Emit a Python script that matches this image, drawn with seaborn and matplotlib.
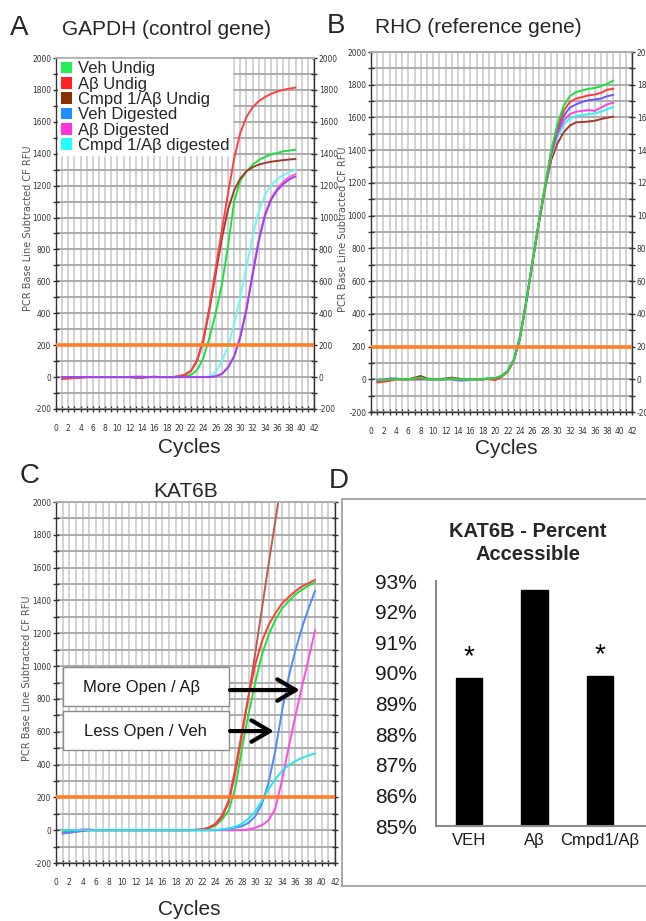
import numpy as np
import pandas as pd
import matplotlib
matplotlib.use('Agg')
import matplotlib.pyplot as plt
import seaborn as sns
from matplotlib.patches import Patch, Rectangle
from matplotlib import font_manager as fm

# ------------------------------------------------------------------ data
cycles = [1, 2, 3, 4, 5, 6, 7, 8, 9, 10, 11, 12, 13, 14, 15, 16, 17, 18, 19, 20,
          21, 22, 23, 24, 25, 26, 27, 28, 29, 30, 31, 32, 33, 34, 35, 36, 37, 38, 39]
series = ['Veh Undig', 'Aβ Undig', 'Cmpd 1/Aβ Undig',
          'Veh Digested', 'Aβ Digested', 'Cmpd 1/Aβ digested']
threshold = 200

# A: GAPDH (control gene)
gapdh_veh_undig = [0, 0, 0, 0, 0, 0, 0, 0, 0, 0, 0, 0, 0, 0, 0, 0, 0, 0, 0, 2,
                   5, 15, 45, 120, 250, 400, 580, 820, 1100, 1230,
                   1290, 1330, 1360, 1380, 1395, 1405, 1415, 1420, 1425]
gapdh_ab_undig = [-10, -8, -6, -3, 0, 0, 0, 0, 0, 0, 0, 0, 0, 0, 0, 0, 0, 0, 0, 5,
                  15, 40, 110, 240, 440, 680, 920, 1150, 1370, 1530,
                  1630, 1690, 1730, 1755, 1775, 1790, 1800, 1808, 1815]
gapdh_cmpd_undig = [-10, -8, -6, -3, 0, 0, 0, 0, 0, 0, 0, 0, -5, -5, 0, 0, 0, 0, 0, 5,
                    15, 40, 105, 230, 430, 650, 870, 1050, 1170, 1245,
                    1290, 1315, 1332, 1342, 1350, 1355, 1360, 1364, 1367]
gapdh_veh_dig = [0, 0, 0, 0, 0, 0, 0, 0, 0, 0, 0, 0, 3, 3, 0, 3, 0, 0, 0, 0,
                 0, 0, 0, 0, 0, 5, 20, 60, 130, 250,
                 420, 640, 850, 1010, 1110, 1170, 1210, 1240, 1258]
gapdh_ab_dig = [0, 0, 0, 0, 0, 0, 0, 0, 0, 0, 0, 0, 0, 0, 0, 0, 0, 0, 0, 0,
                0, 0, 0, 0, 0, 5, 20, 60, 130, 255,
                430, 650, 860, 1020, 1120, 1180, 1225, 1255, 1272]
gapdh_cmpd_dig = [0, 0, 0, 0, 0, 0, 0, 0, 0, 0, 0, 0, 0, 0, 0, 0, 0, 0, 0, 0,
                  0, 0, 0, 0, 5, 30, 100, 190, 330, 500,
                  690, 880, 1040, 1140, 1200, 1240, 1265, 1285, 1300]

# B: RHO (reference gene)
rho_veh_undig = [-5, -5, 0, 0, 0, 0, 5, 10, 0, 0, 0, 0, 5, 0, 0, 0, 0, 0, 5, 8,
                 20, 50, 120, 260, 480, 720, 960, 1180, 1400, 1560,
                 1670, 1730, 1755, 1765, 1775, 1780, 1790, 1805, 1825]
rho_ab_undig = [-20, -15, -10, 0, 0, 0, 0, 5, 0, 0, 0, 0, 5, 0, 0, 0, 0, 0, 0, -5,
                15, 45, 115, 255, 475, 715, 955, 1175, 1390, 1540,
                1640, 1695, 1715, 1725, 1735, 1740, 1750, 1770, 1775]
rho_cmpd_undig = [-10, -5, 0, 0, 0, 0, 10, 20, 5, 0, 0, 5, 10, 5, 0, 0, 0, 0, 5, 5,
                  18, 48, 118, 258, 478, 715, 950, 1160, 1340, 1440,
                  1510, 1550, 1570, 1572, 1575, 1580, 1590, 1598, 1605]
rho_veh_dig = [-10, -5, 5, 5, 0, 0, 0, 0, 0, 0, 0, 0, 0, 0, 0, 0, 0, 0, 5, 5,
               20, 50, 120, 260, 480, 720, 960, 1175, 1385, 1520,
               1610, 1660, 1680, 1695, 1705, 1710, 1715, 1730, 1738]
rho_ab_dig = [-5, 0, 0, 0, 0, 0, 0, 0, 0, 0, 0, 0, 0, -5, -5, 0, 0, 0, 5, 5,
              20, 50, 120, 260, 480, 720, 960, 1170, 1375, 1500,
              1580, 1620, 1635, 1640, 1645, 1640, 1660, 1680, 1690]
rho_cmpd_dig = [0, 0, 0, 0, 0, 0, 0, 0, 0, 0, 0, 0, 0, -10, -10, -5, 0, 5, 5, 8,
                22, 52, 125, 265, 485, 720, 955, 1165, 1365, 1480,
                1555, 1595, 1610, 1615, 1620, 1625, 1635, 1650, 1665]

# C: KAT6B
kat_veh_undig = [-10, -5, 0, 0, 0, 0, 0, 0, 0, 0, 0, 0, 0, 0, 0, 0, 0, 0, 0, 0,
                 0, 3, 10, 28, 65, 120, 260, 500, 710, 900,
                 1070, 1190, 1280, 1350, 1395, 1435, 1465, 1490, 1510]
kat_ab_undig = [-20, -15, -10, -5, 0, 0, 0, 0, 0, 0, 0, 0, 0, 0, 0, 0, 0, 0, 0, 0,
                2, 5, 15, 35, 80, 170, 350, 580, 820, 1010,
                1150, 1250, 1320, 1380, 1420, 1455, 1485, 1505, 1525]
kat_cmpd_undig = [-15, -10, -5, 0, 0, 0, 0, 0, 0, 0, 0, 0, 0, 0, 0, 0, 0, 0, 0, 0,
                  2, 5, 15, 40, 90, 180, 380, 600, 820, 1080,
                  1350, 1620, 1880, 2140]
kat_veh_dig = [-20, -15, -10, 0, 0, 0, 0, 0, 0, 0, 0, 0, 0, 0, 0, 0, 0, 0, 0, 0,
               0, 0, 0, 0, 5, 10, 15, 25, 45, 85,
               160, 290, 480, 720, 930, 1090, 1230, 1350, 1460]
kat_ab_dig = [0, 0, 0, 5, 5, 0, 0, 0, 0, 0, 0, 0, 0, 0, 0, 0, 0, 0, 0, 0,
              0, 0, 0, 0, 0, 0, 0, 0, 5, 15,
              30, 60, 130, 300, 500, 690, 870, 1040, 1220]
kat_cmpd_dig = [0, 0, 0, 0, 0, 0, 0, 0, 0, 0, 0, 0, 0, 0, 0, 0, 0, 0, 0, 0,
                0, 0, 0, 0, 5, 10, 20, 40, 70, 115,
                180, 250, 310, 360, 395, 420, 440, 455, 468]

# D: KAT6B percent accessible
groups = ['VEH', 'Aβ', 'Cmpd1/Aβ']
pct_accessible = [89.83, 92.71, 89.9]
significant = [True, False, True]
pct_ticks = [85, 86, 87, 88, 89, 90, 91, 92, 93]

# ------------------------------------------------------------------ style
sns.set_theme(style='white')
plt.rcParams['font.family'] = ['Liberation Sans', 'DejaVu Sans']

# narrow font for the qPCR tick labels
tick_fp = None
for f in fm.fontManager.ttflist:
    if f.name == 'DejaVu Sans' and 'ondensed' in str(f.stretch) and f.weight in (400, 'normal') \
            and f.style == 'normal':
        tick_fp = fm.FontProperties(fname=f.fname, size=6)
        break
if tick_fp is None:
    for f in fm.fontManager.ttflist:
        if f.name == 'Liberation Sans Narrow' and f.style == 'normal' and f.weight in (400, 'normal'):
            tick_fp = fm.FontProperties(fname=f.fname, size=6.5)
            break
if tick_fp is None:
    tick_fp = fm.FontProperties(family='Liberation Sans', size=5.5)

legend_colors = ['#22ee55', '#ff2222', '#8b3000', '#1e8fff', '#ff33dd', '#22ffff']
pal_A = dict(zip(series, ['#1ee03c', '#ff4040', '#a33a2a', '#9844f0', '#ff5ce0', '#70f6f6']))
pal_B = dict(zip(series, ['#1ee03c', '#ff3b3b', '#a33a2a', '#6a55ff', '#ff40e0', '#30f5f5']))
pal_C = dict(zip(series, ['#1ee03c', '#ff3b3b', '#c05a52', '#4f8bff', '#ff4ce6', '#1fe8ee']))

W, H = 646, 921
fig = plt.figure(figsize=(W / 100, H / 100), dpi=100)


def box(l, t, r, b):
    return [l / W, 1 - b / H, (r - l) / W, (b - t) / H]


axA = fig.add_axes(box(56, 58, 314, 409))
axB = fig.add_axes(box(371, 52, 632, 412))
axC = fig.add_axes(box(56, 502, 335, 863))
axD = fig.add_axes(box(436, 581, 646, 826))


def long_df(value_lists):
    rows = []
    for name, vals in zip(series, value_lists):
        for c, v in zip(cycles, vals):
            rows.append((name, c, v))
    return pd.DataFrame(rows, columns=['series', 'cycle', 'rfu'])


def draw_qpcr(ax, value_lists, palette, order, right_labels):
    df = long_df(value_lists)
    sns.lineplot(data=df, x='cycle', y='rfu', hue='series', hue_order=order,
                 palette=palette, ax=ax, legend=False, estimator=None,
                 sort=False, linewidth=1.4)
    ax.axhline(threshold, color='#ff7f2a', lw=2.6, zorder=3)
    ax.set_xlim(0, 42)
    ax.set_ylim(-200, 2000)
    ax.set_xticks(np.arange(0, 43, 1))
    ax.set_xticklabels([str(i) if i % 2 == 0 else '' for i in range(43)])
    yt = np.arange(-200, 2001, 100)
    ax.set_yticks(yt)
    ax.set_yticklabels([str(v) if v % 200 == 0 else '' for v in yt])
    ax.set_xlabel('')
    ax.set_ylabel('')
    ax.set_axisbelow(True)
    ax.grid(axis='x', color='#d2d2d2', lw=1.4)
    ax.grid(axis='y', color='#acacac', lw=1.4)
    for s in ['left', 'right', 'bottom']:
        ax.spines[s].set_color('#333333')
        ax.spines[s].set_linewidth(1.0)
        ax.spines[s].set_visible(True)
    ax.spines['top'].set_color('#acacac')
    ax.spines['top'].set_linewidth(1.4)
    ax.tick_params(axis='both', which='major', direction='inout', length=5,
                   width=1, color='#333333', labelcolor='#333333')
    ax.tick_params(axis='x', bottom=True, pad=8)
    ax.tick_params(axis='y', left=True, right=True, labelright=right_labels, pad=1)
    for t in ax.xaxis.get_major_ticks() + ax.yaxis.get_major_ticks():
        t.label1.set_fontproperties(tick_fp)
        t.label2.set_fontproperties(tick_fp)


orderA = ['Veh Undig', 'Cmpd 1/Aβ Undig', 'Aβ Undig', 'Cmpd 1/Aβ digested',
          'Aβ Digested', 'Veh Digested']
draw_qpcr(axA, [gapdh_veh_undig, gapdh_ab_undig, gapdh_cmpd_undig,
                gapdh_veh_dig, gapdh_ab_dig, gapdh_cmpd_dig], pal_A, orderA, True)
orderB = ['Cmpd 1/Aβ Undig', 'Cmpd 1/Aβ digested', 'Aβ Digested', 'Veh Digested',
          'Aβ Undig', 'Veh Undig']
draw_qpcr(axB, [rho_veh_undig, rho_ab_undig, rho_cmpd_undig,
                rho_veh_dig, rho_ab_dig, rho_cmpd_dig], pal_B, orderB, True)
orderC = ['Cmpd 1/Aβ Undig', 'Veh Undig', 'Aβ Undig', 'Aβ Digested',
          'Veh Digested', 'Cmpd 1/Aβ digested']
draw_qpcr(axC, [kat_veh_undig, kat_ab_undig, kat_cmpd_undig,
                kat_veh_dig, kat_ab_dig, kat_cmpd_dig], pal_C, orderC, False)

# legend of panel A
handles = [Patch(facecolor=c, edgecolor='none') for c in legend_colors]
leg = axA.legend(handles, series, loc='upper left', bbox_to_anchor=(0.008, 0.998),
                 frameon=True, fancybox=False, framealpha=1, edgecolor='white',
                 facecolor='white', fontsize=12, handlelength=0.7, handleheight=0.7,
                 handletextpad=0.35, labelspacing=0.02, borderpad=0.15, borderaxespad=0)
leg.set_zorder(10)

# annotations on panel C
for (y0, label, tx, ty) in [(757, 'More Open / Aβ', 12.8, 868),
                            (489, 'Less Open / Veh', 13.4, 603)]:
    axC.add_patch(Rectangle((1.0, y0), 25.1, 237, facecolor='white',
                            edgecolor='#8c8c8c', lw=1.0, zorder=6))
    axC.text(tx, ty, label, ha='center', va='center', fontsize=12,
             color='#1a1a1a', zorder=7)
for (x1, y) in [(36.7, 854), (32.8, 604)]:
    axC.annotate('', xy=(x1, y), xytext=(26.2, y), zorder=8,
                 arrowprops=dict(arrowstyle='->,head_length=0.6,head_width=0.35',
                                 lw=3, color='black', mutation_scale=22,
                                 shrinkA=0, shrinkB=0))

# panel D (box + bar chart)
fig.patches.append(Rectangle((342 / W, 1 - 886 / H), (660 - 342) / W, 387 / H,
                             transform=fig.transFigure, facecolor='white',
                             edgecolor='#9a9a9a', lw=1.2, zorder=5))
axD.set_zorder(6)
axD.patch.set_alpha(0)
dfD = pd.DataFrame({'group': groups, 'pct': pct_accessible})
sns.barplot(data=dfD, x='group', y='pct', color='black', width=0.4,
            saturation=1, ax=axD)
for p in axD.patches:
    p.set_facecolor('black')
    p.set_edgecolor('black')
axD.set_ylim(85, 93)
axD.set_xlim(-0.5, 2.7)
axD.set_yticks(pct_ticks)
axD.set_yticklabels([f'{v}%' for v in pct_ticks])
axD.set_xlabel('')
axD.set_ylabel('')
axD.grid(False)
for s in ['top', 'right']:
    axD.spines[s].set_visible(False)
for s in ['left', 'bottom']:
    axD.spines[s].set_color('#8a8a8a')
    axD.spines[s].set_linewidth(1.5)
axD.tick_params(axis='y', length=0, labelsize=15, pad=14, labelcolor='#1a1a1a')
axD.tick_params(axis='x', length=0, labelsize=12, pad=5, labelcolor='#1a1a1a')
for i, (g, v, sig) in enumerate(zip(groups, pct_accessible, significant)):
    if sig:
        axD.text(i, v + 0.46, '*', ha='center', va='baseline', fontsize=20,
                 color='black')
fig.text(528 / W, 1 - 543 / H, 'KAT6B - Percent\nAccessible', ha='center',
         va='center', fontsize=14.5, fontweight='bold', linespacing=1.3, zorder=7)

# panel labels / titles / axis titles
fig.text(10 / W, 1 - 35 / H, 'A', fontsize=20, va='baseline')
fig.text(62 / W, 1 - 35 / H, 'GAPDH (control gene)', fontsize=15, va='baseline')
fig.text(327 / W, 1 - 33 / H, 'B', fontsize=20, va='baseline')
fig.text(375 / W, 1 - 33 / H, 'RHO (reference gene)', fontsize=15, va='baseline')
fig.text(20 / W, 1 - 483 / H, 'C', fontsize=20, va='baseline')
fig.text(186 / W, 1 - 497 / H, 'KAT6B', fontsize=15, va='baseline', ha='center')
fig.text(329 / W, 1 - 488 / H, 'D', fontsize=20, va='baseline')

for (x, y) in [(189, 453), (506, 454), (189, 915)]:
    fig.text(x / W, 1 - y / H, 'Cycles', fontsize=15, ha='center', va='baseline')
for (x, y) in [(28, 228), (343, 229), (27, 678)]:
    fig.text(x / W, 1 - y / H, 'PCR Base Line Subtracted CF RFU', rotation=90,
             fontsize=7, color='#555555', ha='center', va='center',
             family='DejaVu Sans')

fig.savefig('out.png', dpi=100)
